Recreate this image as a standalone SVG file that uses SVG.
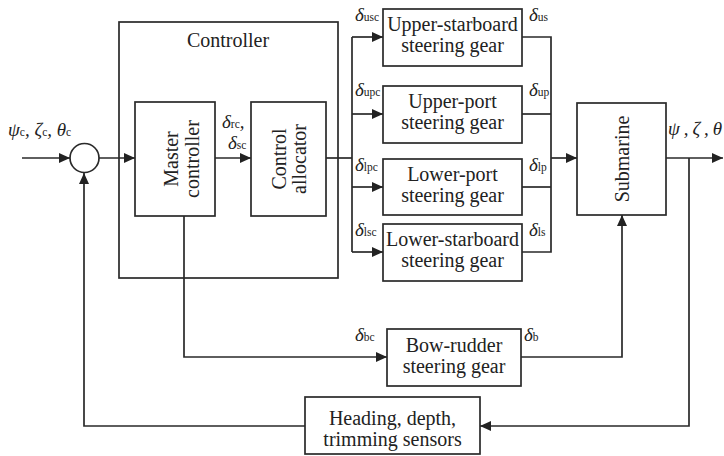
<svg xmlns="http://www.w3.org/2000/svg" width="724" height="456" viewBox="0 0 724 456">
<style>
.box{fill:#fff;stroke:#2a2a2a;stroke-width:1.7}
.ln{fill:none;stroke:#2a2a2a;stroke-width:1.7}
.t{font-family:"Liberation Serif","Times New Roman",serif;font-size:20px;fill:#222;text-anchor:middle}
.m{font-family:"Liberation Serif","Times New Roman",serif;font-size:19px;font-style:italic;fill:#222}
.s{font-size:11.5px;font-style:normal}
</style>
<defs>
<marker id="ah" markerUnits="userSpaceOnUse" markerWidth="12" markerHeight="10" refX="11" refY="5" orient="auto">
<path d="M0,0 L11,5 L0,10 Z" fill="#222"/>
</marker>
</defs>
<rect width="724" height="456" fill="#fff"/>

<g id="controller">
<rect class="box" x="119" y="22" width="219" height="256" fill="none"/>
<text class="t" x="228" y="47">Controller</text>
</g>

<g id="connectors">
<path class="ln" d="M22,158 H70" marker-end="url(#ah)"/>
<path class="ln" d="M99,158 H135" marker-end="url(#ah)"/>
<path class="ln" d="M215,158 H251" marker-end="url(#ah)"/>
<path class="ln" d="M326,158 H352"/>
<path class="ln" d="M352,37 V252"/>
<path class="ln" d="M352,37 H383" marker-end="url(#ah)"/>
<path class="ln" d="M352,114 H383" marker-end="url(#ah)"/>
<path class="ln" d="M352,187 H383" marker-end="url(#ah)"/>
<path class="ln" d="M352,252 H383" marker-end="url(#ah)"/>
<path class="ln" d="M522,37 H551 V252 H522"/>
<path class="ln" d="M522,114 H551"/>
<path class="ln" d="M522,187 H551"/>
<path class="ln" d="M551,158 H577" marker-end="url(#ah)"/>
<path class="ln" d="M666,158 H723" marker-end="url(#ah)"/>
<path class="ln" d="M689,158 V426 H480" marker-end="url(#ah)"/>
<path class="ln" d="M305,426 H84 V173" marker-end="url(#ah)"/>
<path class="ln" d="M184,216 V357 H387" marker-end="url(#ah)"/>
<path class="ln" d="M521,357 H622 V215" marker-end="url(#ah)"/>
</g>

<g id="sum">
<circle class="box" cx="84.5" cy="158" r="14.5"/>
</g>

<g id="master">
<rect class="box" x="135" y="102" width="80" height="114"/>
<text class="t" transform="translate(178,159) rotate(-90)" x="0" y="0">Master</text>
<text class="t" transform="translate(199,159) rotate(-90)" x="0" y="0">controller</text>
</g>

<g id="allocator">
<rect class="box" x="251" y="102" width="75" height="114"/>
<text class="t" transform="translate(286,159) rotate(-90)" x="0" y="0">Control</text>
<text class="t" transform="translate(306,159) rotate(-90)" x="0" y="0">allocator</text>
</g>

<g id="upper-starboard">
<rect class="box" x="383" y="9" width="139" height="57"/>
<text class="t" x="452.5" y="31">Upper-starboard</text>
<text class="t" x="452.5" y="52">steering gear</text>
</g>

<g id="upper-port">
<rect class="box" x="383" y="86" width="139" height="57"/>
<text class="t" x="452.5" y="108">Upper-port</text>
<text class="t" x="452.5" y="129">steering gear</text>
</g>

<g id="lower-port">
<rect class="box" x="383" y="159" width="139" height="56"/>
<text class="t" x="452.5" y="181">Lower-port</text>
<text class="t" x="452.5" y="202">steering gear</text>
</g>

<g id="lower-starboard">
<rect class="box" x="383" y="224" width="139" height="57"/>
<text class="t" x="452.5" y="246">Lower-starboard</text>
<text class="t" x="452.5" y="267">steering gear</text>
</g>

<g id="submarine">
<rect class="box" x="577" y="103" width="89" height="112"/>
<text class="t" transform="translate(629,159) rotate(-90)" x="0" y="0">Submarine</text>
</g>

<g id="bow-rudder">
<rect class="box" x="387" y="329" width="134" height="57"/>
<text class="t" x="454" y="352">Bow-rudder</text>
<text class="t" x="454" y="373">steering gear</text>
</g>

<g id="sensors">
<rect class="box" x="305" y="397" width="175" height="57"/>
<text class="t" x="392.5" y="425">Heading, depth,</text>
<text class="t" x="392.5" y="446">trimming sensors</text>
</g>

<g id="labels">
<text class="m" x="8" y="136">ψ<tspan class="s">c</tspan>, ζ<tspan class="s">c</tspan>, θ<tspan class="s">c</tspan></text>
<text class="m" x="222" y="128">δ<tspan class="s">rc</tspan>,</text>
<text class="m" x="228" y="149">δ<tspan class="s">sc</tspan></text>
<text class="m" x="355" y="21">δ<tspan class="s">usc</tspan></text>
<text class="m" x="529" y="21">δ<tspan class="s">us</tspan></text>
<text class="m" x="355" y="96">δ<tspan class="s">upc</tspan></text>
<text class="m" x="529" y="96">δ<tspan class="s">up</tspan></text>
<text class="m" x="355" y="171">δ<tspan class="s">lpc</tspan></text>
<text class="m" x="529" y="171">δ<tspan class="s">lp</tspan></text>
<text class="m" x="355" y="236">δ<tspan class="s">lsc</tspan></text>
<text class="m" x="529" y="236">δ<tspan class="s">ls</tspan></text>
<text class="m" x="355" y="341">δ<tspan class="s">bc</tspan></text>
<text class="m" x="524" y="341">δ<tspan class="s">b</tspan></text>
<text class="m" x="668" y="135" textLength="54" lengthAdjust="spacing">ψ , ζ , θ</text>
</g>
</svg>
